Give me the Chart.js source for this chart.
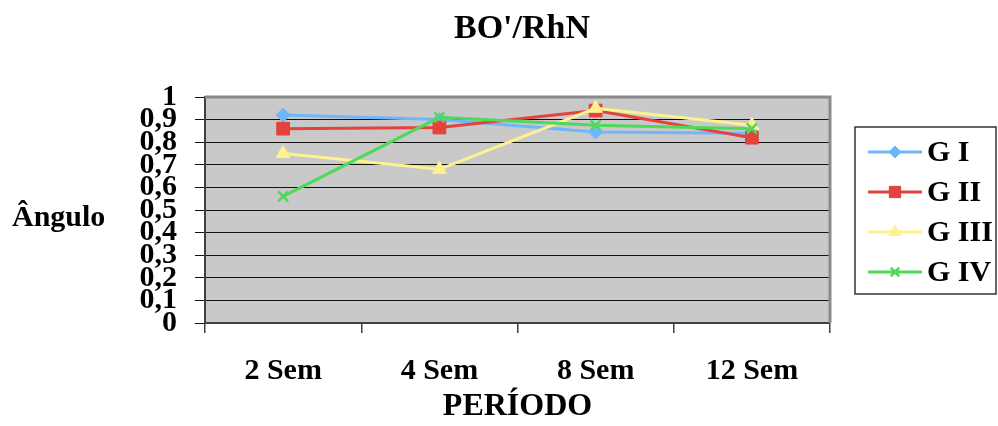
<!DOCTYPE html>
<html>
<head>
<meta charset="utf-8">
<title>BO'/RhN</title>
<script src="https://cdn.jsdelivr.net/npm/chart.js@4.4.1/dist/chart.umd.min.js"></script>
<style>
  html, body { margin: 0; padding: 0; background: #fff; }
  canvas { display: block; }
</style>
</head>
<body>
<canvas id="chart" width="998" height="426"></canvas>
<script>
// categories and series
const periods = ["2 Sem", "4 Sem", "8 Sem", "12 Sem"];
const groupNames = ["G I", "G II", "G III", "G IV"];
const gI = [0.92, 0.90, 0.845, 0.84];
const gII = [0.86, 0.865, 0.94, 0.82];
const gIII = [0.75, 0.68, 0.95, 0.875];
const gIV = [0.56, 0.91, 0.875, 0.86];
const yTicks = [0, 0.1, 0.2, 0.3, 0.4, 0.5, 0.6, 0.7, 0.8, 0.9, 1];

const colors = ["#6fb6fb", "#e5413d", "#fff28e", "#4fd95b"];
const markers = ["rectRot", "rect", "triangle", "crossRot"];
const markerSize = [7, 9, 8, 7];
const FONT = "'Liberation Serif', 'Times New Roman', serif";

const fmt = v => (v === 0 || v === 1) ? String(v) : v.toFixed(1).replace(".", ",");

const series = [gI, gII, gIII, gIV].map((vals, i) => ({
  label: groupNames[i],
  data: vals,
  borderColor: colors[i],
  backgroundColor: colors[i],
  borderWidth: 3,
  pointStyle: markers[i],
  pointRadius: markerSize[i],
  pointHoverRadius: markerSize[i],
  pointBorderWidth: markers[i] === "crossRot" ? 2.5 : 1,
  tension: 0,
  order: 3 - i // later groups on top
}));

// plot background, frame, title, y caption and legend box
const decor = {
  id: "decor",
  beforeDraw(chart) {
    const { ctx, chartArea: a } = chart;
    ctx.save();
    ctx.fillStyle = "#c9c9c9";
    ctx.fillRect(a.left, a.top, a.right - a.left, a.bottom - a.top);
    ctx.restore();
  },
  afterDraw(chart) {
    const { ctx, chartArea: a } = chart;
    ctx.save();
    // grey frame top and right
    ctx.strokeStyle = "#8a8a8a";
    ctx.lineWidth = 3;
    ctx.beginPath();
    ctx.moveTo(a.left, a.top);
    ctx.lineTo(a.right, a.top);
    ctx.lineTo(a.right, a.bottom);
    ctx.stroke();

    ctx.fillStyle = "#000";
    ctx.textBaseline = "middle";
    ctx.font = "bold 34px " + FONT;
    ctx.textAlign = "center";
    ctx.fillText("BO'/RhN", 522, 29);

    ctx.font = "bold 30px " + FONT;
    ctx.textAlign = "left";
    ctx.fillText("Ângulo", 12, 218);

    // legend
    const box = { x: 855, y: 127, w: 141, h: 167 };
    ctx.strokeStyle = "#333";
    ctx.lineWidth = 1.5;
    ctx.strokeRect(box.x, box.y, box.w, box.h);
    chart.data.datasets.forEach((ds, i) => {
      const y = box.y + 25 + i * 40;
      ctx.strokeStyle = ds.borderColor;
      ctx.fillStyle = ds.backgroundColor;
      ctx.lineWidth = 3;
      ctx.beginPath();
      ctx.moveTo(868, y);
      ctx.lineTo(922, y);
      ctx.stroke();
      ctx.lineWidth = ds.pointBorderWidth;
      Chart.helpers.drawPoint(ctx, {
        pointStyle: ds.pointStyle,
        radius: ds.pointRadius - 1,
        rotation: 0,
        borderWidth: ds.pointBorderWidth
      }, 895, y);
      ctx.fillStyle = "#000";
      ctx.font = "bold 30px " + FONT;
      ctx.textAlign = "left";
      ctx.textBaseline = "middle";
      ctx.fillText(ds.label, 927, y + 1);
    });
    ctx.restore();
  }
};

new Chart(document.getElementById("chart"), {
  type: "line",
  data: { labels: periods, datasets: series },
  plugins: [decor],
  options: {
    responsive: false,
    devicePixelRatio: 1,
    animation: false,
    layout: { padding: { left: 0, right: 168, top: 97, bottom: 0 } },
    plugins: {
      legend: { display: false },
      title: { display: false },
      tooltip: { enabled: false }
    },
    scales: {
      x: {
        type: "category",
        offset: true,
        afterFit: s => { s.height = 103; },
        grid: {
          offset: true,
          drawOnChartArea: false,
          drawTicks: true,
          tickLength: 10,
          color: "#404040",
          lineWidth: 1.5
        },
        border: { display: true, color: "#404040", width: 2 },
        ticks: {
          color: "#000",
          padding: 20,
          maxRotation: 0,
          font: { family: FONT, size: 30, weight: "bold" }
        },
        title: {
          display: true,
          text: "PERÍODO",
          color: "#000",
          padding: { top: 0, bottom: 0 },
          font: { family: FONT, size: 32, weight: "bold" }
        }
      },
      y: {
        min: 0,
        max: 1,
        afterFit: s => { s.width = 205; },
        afterBuildTicks: s => { s.ticks = yTicks.map(v => ({ value: v })); },
        grid: {
          color: "#111",
          lineWidth: 1,
          drawTicks: true,
          tickLength: 10
        },
        border: { display: true, color: "#404040", width: 2 },
        ticks: {
          autoSkip: false,
          color: "#000",
          padding: 18,
          font: { family: FONT, size: 30, weight: "bold" },
          callback: v => fmt(v)
        }
      }
    }
  }
});
</script>
</body>
</html>
